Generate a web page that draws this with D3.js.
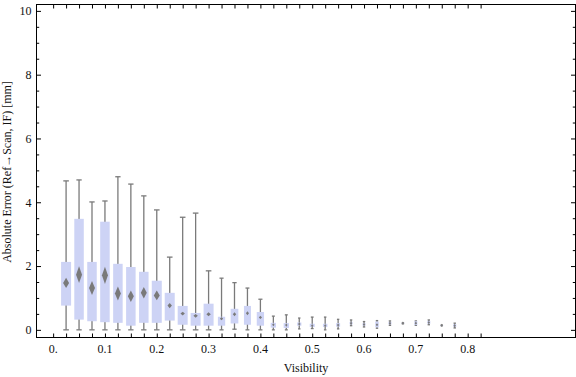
<!DOCTYPE html>
<html>
<head>
<meta charset="utf-8">
<script src="https://cdn.jsdelivr.net/npm/d3@7"></script>
<style>
  body { margin: 0; background: #fff; }
  text { font-family: "Liberation Serif", "Times New Roman", serif; font-size: 12px; fill: #111; }
</style>
</head>
<body>
<script>
var w = 576;
var h = 377;

// Visibility bins (box positions)
var visibility = [0.025, 0.05, 0.075, 0.1, 0.125, 0.15, 0.175, 0.2, 0.225, 0.25,
                  0.275, 0.3, 0.325, 0.35, 0.375, 0.4, 0.425, 0.45, 0.475, 0.5,
                  0.525, 0.55, 0.575, 0.6, 0.625, 0.65, 0.675, 0.7, 0.725, 0.75, 0.775];

// Box-whisker statistics
var whiskerLow  = [0, 0, 0, 0, 0, 0, 0, 0, 0, 0, 0, 0, 0, 0.02, 0, 0, 0, 0, 0.03, 0.04,
                   0, 0.03, 0.13, 0.09, 0.05, 0.14, 0.19, 0.14, 0.16, 0.13, 0.06];
var q1          = [0.76, 0.32, 0.27, 0.24, 0.22, 0.13, 0.22, 0.22, 0.29, 0.16, 0.13, 0.13, 0.13, 0.20, 0.16, 0.13,
                   0.07, 0.06, 0.13, 0.09, 0.09, 0.10, 0.17, 0.13, 0.08, 0.17, 0.20, 0.15, 0.19, 0.13, 0.09];
var middle      = [1.47, 1.73, 1.31, 1.71, 1.14, 1.05, 1.16, 1.08, 0.76, 0.51, 0.44, 0.49, 0.35, 0.49, 0.52, 0.39,
                   0.16, 0.15, 0.18, 0.13, 0.13, 0.15, 0.21, 0.17, 0.16, 0.21, 0.21, 0.21, 0.23, 0.14, 0.13];
var q3          = [2.13, 3.48, 2.13, 3.39, 2.07, 1.97, 1.82, 1.54, 1.16, 0.75, 0.53, 0.82, 0.41, 0.66, 0.75, 0.56,
                   0.22, 0.21, 0.23, 0.19, 0.19, 0.21, 0.25, 0.21, 0.26, 0.25, 0.22, 0.27, 0.28, 0.15, 0.18];
var whiskerHigh = [4.67, 4.70, 4.01, 4.04, 4.80, 4.57, 4.20, 3.76, 2.28, 3.53, 3.66, 1.85, 1.62, 1.48, 1.31, 0.96,
                   0.43, 0.47, 0.37, 0.40, 0.40, 0.33, 0.31, 0.26, 0.29, 0.28, 0.22, 0.28, 0.31, 0.15, 0.21];
// half height of the diamond marker (confidence interval of the mean)
var markerHalf  = [0.16, 0.26, 0.22, 0.27, 0.22, 0.18, 0.18, 0.15, 0.08, 0.06, 0.06, 0.06, 0.05, 0.06, 0.06, 0.05,
                   0.04, 0.04, 0.03, 0.03, 0.03, 0.03, 0.02, 0.02, 0.02, 0.02, 0.02, 0.02, 0.02, 0.02, 0.02];
// relative box width (sample weight per bin)
var binWeight   = [1.0, 0.95, 0.95, 0.95, 0.95, 0.95, 0.95, 1.0, 1.0, 1.0, 1.0, 1.0, 0.73, 0.77, 0.7, 0.73,
                   0.53, 0.53, 0.42, 0.5, 0.45, 0.4, 0.3, 0.3, 0.35, 0.3, 0.3, 0.3, 0.3, 0.3, 0.3];

var xTickValues = [0, 0.025, 0.05, 0.075, 0.1, 0.125, 0.15, 0.175, 0.2, 0.225, 0.25, 0.275, 0.3, 0.325,
                   0.35, 0.375, 0.4, 0.425, 0.45, 0.475, 0.5, 0.525, 0.55, 0.575, 0.6, 0.625, 0.65,
                   0.675, 0.7, 0.725, 0.75, 0.775, 0.8, 0.825];
var xTickLabels = ["0.", "0.1", "0.2", "0.3", "0.4", "0.5", "0.6", "0.7", "0.8"];
var yMajorTicks = [0, 2, 4, 6, 8, 10];
var yMinorTicks = [0.5, 1, 1.5, 2.5, 3, 3.5, 4.5, 5, 5.5, 6.5, 7, 7.5, 8.5, 9, 9.5];

var dataset = visibility.map(function(v, i) {
    return { x: v, lo: whiskerLow[i], q1: q1[i], mid: middle[i], q3: q3[i], hi: whiskerHigh[i],
             m: markerHalf[i], wt: binWeight[i] };
});

// plot frame edges
var frameL = 36.5, frameR = 575.5, frameT = 4.5, frameB = 337.5;

var svg = d3.select("body")
            .append("svg")
            .attr("width", w)
            .attr("height", h);

var xScale = d3.scaleLinear()
               .domain([-0.0321, 1.0081])
               .range([frameL, frameR]);

var yScale = d3.scaleLinear()
               .domain([-0.24, 10.2])
               .range([frameB, frameT]);

// box width in px from the bin weight
var widthScale = d3.scaleLinear()
                   .domain([0, 1])
                   .range([0, 10]);

var boxColor = "#cdd3f5";
var grey = "#7a7a7a";

var boxes = svg.append("g");

// whiskers
boxes.selectAll(".whisker")
     .data(dataset)
     .enter()
     .append("line")
     .attr("x1", function(d) { return xScale(d.x); })
     .attr("x2", function(d) { return xScale(d.x); })
     .attr("y1", function(d) { return yScale(d.lo); })
     .attr("y2", function(d) { return yScale(d.hi); })
     .attr("stroke", grey)
     .attr("stroke-width", 1.3);

["lo", "hi"].forEach(function(k) {
    boxes.selectAll(".cap-" + k)
         .data(dataset)
         .enter()
         .append("line")
         .attr("x1", function(d) { return xScale(d.x) - Math.max(1.2, widthScale(d.wt) * 0.28); })
         .attr("x2", function(d) { return xScale(d.x) + Math.max(1.2, widthScale(d.wt) * 0.28); })
         .attr("y1", function(d) { return yScale(d[k]); })
         .attr("y2", function(d) { return yScale(d[k]); })
         .attr("stroke", grey)
         .attr("stroke-width", 1.3);
});

// boxes
boxes.selectAll(".box")
     .data(dataset)
     .enter()
     .append("rect")
     .attr("x", function(d) { return xScale(d.x) - widthScale(d.wt) / 2; })
     .attr("width", function(d) { return widthScale(d.wt); })
     .attr("y", function(d) { return yScale(d.q3); })
     .attr("height", function(d) { return Math.max(0, yScale(d.q1) - yScale(d.q3)); })
     .attr("fill", boxColor);

// diamond markers
boxes.selectAll(".marker")
     .data(dataset)
     .enter()
     .append("path")
     .attr("d", function(d) {
         var cx = xScale(d.x), cy = yScale(d.mid);
         var hh = Math.max(1.6, yScale(d.mid - d.m) - cy);
         var hw = d.m > 0.1 ? 3 : Math.max(1.2, widthScale(d.wt) * 0.22);
         return "M" + cx + "," + (cy - hh) + "L" + (cx + hw) + "," + cy +
                "L" + cx + "," + (cy + hh) + "L" + (cx - hw) + "," + cy + "Z";
     })
     .attr("fill", grey);

// frame
svg.append("rect")
   .attr("x", frameL)
   .attr("y", frameT)
   .attr("width", frameR - frameL)
   .attr("height", frameB - frameT)
   .attr("fill", "none")
   .attr("stroke", "#000")
   .attr("stroke-width", 1);

// x ticks (bottom and top, pointing inward)
var xAxisBottom = d3.axisBottom(xScale)
                    .tickValues(xTickValues)
                    .tickSizeInner(-4)
                    .tickSizeOuter(0)
                    .tickFormat("");
var xAxisTop = d3.axisTop(xScale)
                 .tickValues(xTickValues)
                 .tickSizeInner(-4)
                 .tickSizeOuter(0)
                 .tickFormat("");

svg.append("g")
   .attr("transform", "translate(0," + frameB + ")")
   .call(xAxisBottom)
   .call(function(g) { g.select(".domain").remove(); g.selectAll("line").attr("stroke", "#000"); });

svg.append("g")
   .attr("transform", "translate(0," + frameT + ")")
   .call(xAxisTop)
   .call(function(g) { g.select(".domain").remove(); g.selectAll("line").attr("stroke", "#000"); });

// x tick labels
svg.append("g")
   .selectAll("text")
   .data(xTickLabels)
   .enter()
   .append("text")
   .attr("x", function(d, i) { return xScale(i / 10); })
   .attr("y", 353)
   .attr("text-anchor", "middle")
   .text(function(d) { return d; });

// y ticks (left and right, major + minor)
function yTicks(axisFn, x, values, size, labels) {
    var ax = axisFn(yScale)
             .tickValues(values)
             .tickSizeInner(-size)
             .tickSizeOuter(0)
             .tickFormat(labels ? d3.format("d") : "");
    svg.append("g")
       .attr("transform", "translate(" + x + ",0)")
       .call(ax)
       .call(function(g) {
           g.select(".domain").remove();
           g.selectAll("line").attr("stroke", "#000");
           g.selectAll("text")
            .attr("x", -5)
            .attr("font-size", null)
            .attr("font-family", null)
            .attr("fill", null);
       });
}

yTicks(d3.axisLeft, frameL, yMajorTicks, 4.5, true);
yTicks(d3.axisLeft, frameL, yMinorTicks, 2.7, false);
yTicks(d3.axisRight, frameR, yMajorTicks, 4.5, false);
yTicks(d3.axisRight, frameR, yMinorTicks, 2.7, false);

// axis labels
svg.append("text")
   .attr("x", 306)
   .attr("y", 372)
   .attr("text-anchor", "middle")
   .text("Visibility");

svg.append("text")
   .attr("transform", "translate(11,172) rotate(-90)")
   .attr("text-anchor", "middle")
   .text("Absolute Error (Ref\u2192Scan, IF) [mm]");
</script>
</body>
</html>
